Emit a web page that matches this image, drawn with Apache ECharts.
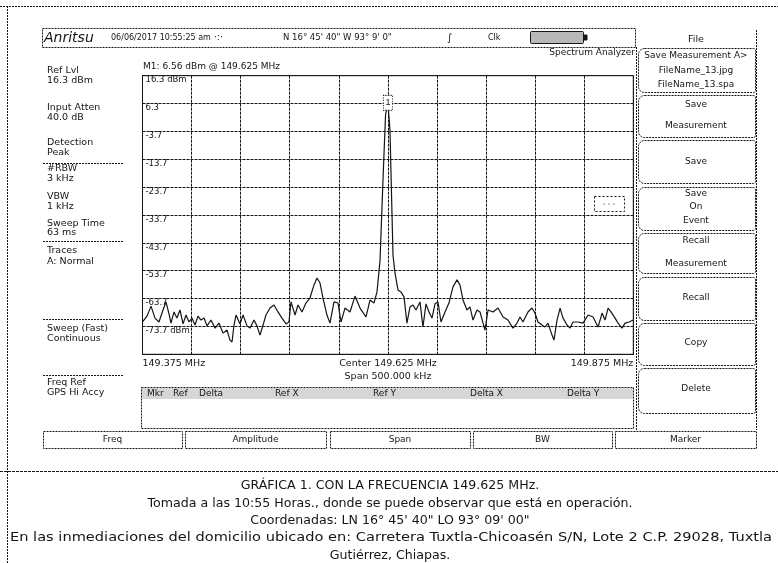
<!DOCTYPE html>
<html><head><meta charset="utf-8">
<script src="https://cdn.jsdelivr.net/npm/echarts@6/dist/echarts.min.js"></script>
<style>html,body{margin:0;padding:0;background:#fff}#c{width:778px;height:563px}</style>
</head><body><div id="c"></div>
<script>
// ---- data ----
const startMHz = 149.375, stopMHz = 149.875, centerMHz = 149.625;
const refLevelDbm = 16.3, dbPerDiv = 10, bottomDbm = -83.7;
const markerDbm = 6.56;
const offsetKHz = [0,4.6,8.7,12.7,16.8,20.9,23.9,27.0,29.0,32.1,
35.1,38.2,41.3,44.3,47.4,50.4,53.5,56.5,59.6,62.7,
65.7,69.8,73.9,77.9,82.0,86.1,89.1,91.2,93.2,95.3,
99.3,102.4,106.5,109.5,113.6,116.6,119.7,122.8,125.8,129.9,
134.0,138.0,142.1,146.2,149.2,151.3,155.4,158.4,162.5,166.5,
170.6,174.7,177.8,180.8,183.9,187.9,191.0,195.1,199.2,202.2,
206.3,211.4,216.5,221.6,227.7,231.8,235.8,238.9,242.0,245.0,
247.6,250.0,252.1,255.2,257.2,260.3,263.3,266.4,269.4,272.5,
275.6,278.6,282.7,285.7,288.8,291.9,294.9,298.0,301.0,304.1,
308.2,312.2,316.3,320.4,323.4,326.5,330.6,333.6,336.7,340.8,
343.8,348.9,352.0,357.1,362.2,367.3,372.3,377.4,381.5,384.6,
387.6,392.7,396.8,399.8,402.9,407.0,410.0,413.1,417.2,419.2,
422.3,425.4,428.4,432.5,435.6,438.6,443.7,448.8,453.9,459.0,
464.1,468.2,471.2,474.3,477.3,481.4,484.5,488.5,491.6,495.7,500.0];
const levelDbm = [-72.1,-70.0,-66.4,-70.7,-72.1,-67.8,-64.9,-69.2,-72.5,-68.5,
-70.7,-67.8,-72.8,-69.6,-72.1,-70.7,-73.2,-70.0,-71.4,-70.7,
-73.5,-71.4,-74.3,-72.5,-76.1,-75.0,-78.6,-79.3,-73.2,-69.6,
-72.8,-69.6,-73.5,-74.3,-71.4,-73.5,-76.8,-73.2,-69.6,-67.1,
-66.0,-68.5,-70.7,-72.8,-72.1,-64.9,-69.6,-66.0,-68.5,-65.3,
-63.5,-58.8,-56.3,-58.1,-63.5,-69.6,-72.5,-64.9,-65.3,-72.1,
-67.1,-68.5,-62.8,-67.1,-70.3,-64.2,-65.3,-61.3,-49.9,-21.1,
2.2,6.56,-3.2,-48.1,-54.5,-60.6,-61.3,-63.1,-72.5,-66.7,
-66.0,-67.8,-64.9,-73.9,-65.6,-68.5,-70.7,-65.6,-64.9,-72.1,
-68.5,-65.3,-59.5,-57.0,-58.8,-64.2,-67.8,-66.7,-71.4,-67.8,
-68.5,-75.0,-67.8,-68.5,-67.1,-70.3,-71.4,-74.3,-72.5,-70.3,
-72.1,-68.5,-67.1,-68.9,-72.1,-73.2,-73.9,-72.5,-76.8,-78.6,
-71.4,-67.1,-70.7,-73.2,-74.3,-72.1,-72.1,-72.5,-69.6,-70.3,
-73.9,-68.9,-71.4,-67.1,-68.5,-70.7,-72.5,-74.3,-72.5,-72.1,-71.4];
const yTickLabels = ['16.3 dBm','6.3','-3.7','-13.7','-23.7','-33.7','-43.7','-53.7','-63.7','-73.7 dBm',''];
const xEdgeLabels = ['149.375 MHz','149.875 MHz'];

// ---- texts ----
const markerText = 'M1: ' + markerDbm.toFixed(2) + ' dBm @ 149.625 MHz';
const leftPanel = [['Ref Lvl',71],['16.3 dBm',81],['Input Atten',108],['40.0 dB',118],['Detection',143],['Peak',153],
 ['#RBW',169],['3 kHz',179],['VBW',197],['1 kHz',207],['Sweep Time',224],['63 ms',233],['Traces',251],['A: Normal',262],
 ['Sweep (Fast)',329],['Continuous',339],['Freq Ref',383],['GPS Hi Accy',393]];
const leftRules = [163,241,319,375];
const softkeys = [[48,92,[['Save Measurement A>',56],['FileName_13.jpg',71],['FileName_13.spa',85]]],
 [95,137,[['Save',105],['Measurement',126]]],
 [140,183,[['Save',162]]],
 [187,230,[['Save',194],['On',207],['Event',221]]],
 [233,273,[['Recall',241],['Measurement',264]]],
 [277,320,[['Recall',298]]],
 [323,365,[['Copy',343]]],
 [368,413,[['Delete',389]]]];
const bottomKeys = [['Freq',43,182],['Amplitude',185,326],['Span',330,470],['BW',473,612],['Marker',615,756]];
const tableHead = [['Mkr',147],['Ref',173],['Delta',199],['Ref X',275],['Ref Y',373],['Delta X',470],['Delta Y',567]];
const caption = ['GRÁFICA 1. CON LA FRECUENCIA 149.625 MHz.',
 'Tomada a las 10:55 Horas., donde se puede observar que está en operación.',
 'Coordenadas: LN 16° 45\' 40" LO 93° 09\' 00"',
 'En las inmediaciones del domicilio ubicado en: Carretera Tuxtla-Chicoasén S/N, Lote 2 C.P. 29028, Tuxtla',
 'Gutiérrez, Chiapas.'];
const justifiedLine = 3;

const UI = '"DejaVu Sans", sans-serif';
const INK = '#151515';
const g = [];
function T(x,y,text,size,align,extra){ g.push({type:'text', z:10, x:x, y:y, style:Object.assign({text:text, font:size+'px '+UI, fill:INK, align:align||'left', verticalAlign:'middle'}, extra||{})}); }
function L(x1,y1,x2,y2,w,dash){ g.push({type:'line', z:5, shape:{x1:x1,y1:y1,x2:x2,y2:y2}, style:{stroke:INK, lineWidth:w||1, lineDash:dash||null}}); }
function R(x,y,w,h,fill,r,dash){ g.push({type:'rect', z:4, shape:{x:x,y:y,width:w,height:h,r:r||0}, style:{fill:fill||'none', stroke:INK, lineWidth:1, lineDash:dash||null}}); }

// page frame
L(0,6.5,778,6.5,1,[2,1]);
L(7.5,6,7.5,563,1,[2,1]);
L(0,471.5,778,471.5,1,[3,1]);
// header bar
R(42.5,28.5,593,19,'#fff',0,[2,1]);
T(44,38,'Anritsu',14,'left',{font:'italic 14px '+UI});
T(111,38,'06/06/2017 10:55:25 am',8);
T(214,38,'·:·',9);
T(283,38,'N 16° 45\' 40" W 93° 9\' 0"',8.5);
T(447,38,'∫',10);
T(488,38,'Clk',8);
R(530.5,31.5,53,12,'#b8b8b8',1);
R(584,35,3,5,'#151515');
T(635,53,'Spectrum Analyzer',9,'right');
// marker readout
T(143,67,markerText,9);
// left panel
leftPanel.forEach(function(p){ T(47,p[1],p[0],9.5); });
leftRules.forEach(function(y){ L(43,y+0.5,123,y+0.5,1,[2,1]); });
// plot annotations
T(388,364,'Center 149.625 MHz',9.5,'center');
T(388,377,'Span 500.000 kHz',9.5,'center');
R(594.5,196.5,30,15,'#fff',0,[2,2]);
T(609,204,'- - -',7,'center');
// marker table
R(141.5,387.5,492,41,'#fff',0,[2,1]);
g.push({type:'rect', z:5, shape:{x:142,y:388,width:491,height:11}, style:{fill:'#d6d6d6'}});
tableHead.forEach(function(p){ T(p[1],393.5,p[0],9); });
// soft key panel
L(636.5,47,636.5,430,1,[2,1]);
L(756.5,30,756.5,430,1,[2,1]);
T(696,40,'File',9.5,'center');
softkeys.forEach(function(k){
  R(638.5,k[0]+0.5,117,k[1]-k[0],'#fff',[6,2,2,6],[2,1]);
  k[2].forEach(function(t){ T(696,t[1],t[0],9,'center'); });
});
// bottom keys
bottomKeys.forEach(function(b){
  R(b[1]+0.5,431.5,b[2]-b[1],17,'#fff',0,[2,1]);
  T((b[1]+b[2])/2,440,b[0],9,'center');
});
// caption (line 4 is a full-width paragraph line)
const capSize = 12.6;
const capFont = capSize + 'px ' + UI;
const meas = document.createElement('canvas').getContext('2d');
meas.font = capFont;
caption.forEach(function(s,i){
  const y = 486 + i*17.4;
  if (i === justifiedLine) {
    const left = 10, right = 772;
    const w = meas.measureText(s).width;
    g.push({type:'text', z:10, x:left, y:y, scaleX:(right-left)/w, style:{text:s, font:capFont, fill:INK, align:'left', verticalAlign:'middle'}});
  } else {
    T(390,y,s,capSize,'center',{font:capFont});
  }
});

const chart = echarts.init(document.getElementById('c'), null, {renderer:'canvas', width:778, height:563});
chart.setOption({
  animation:false,
  backgroundColor:'#fff',
  grid:{left:142.5, top:75.7, width:490.8, height:278.6, show:true, borderColor:INK, borderWidth:1},
  xAxis:{type:'value', min:startMHz, max:stopMHz, interval:0.05,
    axisLine:{show:true, onZero:false, lineStyle:{color:INK}}, axisTick:{show:false},
    splitLine:{show:true, lineStyle:{color:INK, width:1, type:[3,1]}},
    axisLabel:{show:true, margin:4, fontSize:9.5, fontFamily:'DejaVu Sans', color:INK, showMinLabel:true, showMaxLabel:true,
      alignMinLabel:'left', alignMaxLabel:'right', hideOverlap:false,
      formatter:function(v){ if (Math.abs(v-startMHz)<1e-6) return xEdgeLabels[0]; if (Math.abs(v-stopMHz)<1e-6) return xEdgeLabels[1]; return ''; }}},
  yAxis:{type:'value', min:bottomDbm, max:refLevelDbm, interval:dbPerDiv,
    axisLine:{show:true, onZero:false, lineStyle:{color:INK}}, axisTick:{show:false},
    splitLine:{show:true, lineStyle:{color:INK, width:1, type:[3,1]}},
    axisLabel:{show:true, inside:true, margin:3, fontSize:8.5, fontFamily:'DejaVu Sans', color:INK, verticalAlign:'top',
      formatter:function(v){ const i = Math.round((refLevelDbm - v)/dbPerDiv); return yTickLabels[i] || ''; }}},
  series:[{type:'line', showSymbol:false, silent:true, z:3,
    data: offsetKHz.map(function(k,i){ return [startMHz + k/1000, levelDbm[i]]; }),
    lineStyle:{color:INK, width:1.2},
    markPoint:{symbol:'rect', symbolSize:[9,15], silent:true,
      itemStyle:{color:'#fff', borderColor:INK, borderWidth:1, borderType:'dotted'},
      label:{show:true, formatter:'1', color:INK, fontSize:9, position:'inside'},
      data:[{coord:[centerMHz, markerDbm]}]}}],
  graphic:{elements:g}
});
</script></body></html>
